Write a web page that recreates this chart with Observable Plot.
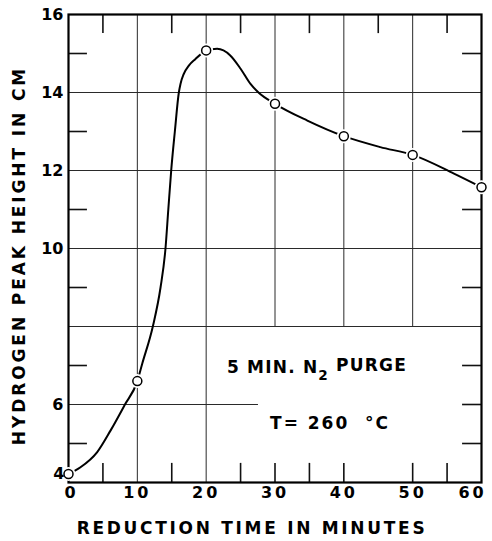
<!DOCTYPE html>
<html><head><meta charset="utf-8">
<script src="https://cdn.jsdelivr.net/npm/d3@7"></script>
<script src="https://cdn.jsdelivr.net/npm/@observablehq/plot@0.6"></script>
<style>html,body{margin:0;padding:0;background:#fff} svg{display:block}</style>
</head><body><div id="chart"></div>
<script>
// measured points
const timeMin = [0, 10, 20, 30, 40, 50, 60];
const peakCm  = [4.22, 6.6, 15.08, 13.71, 12.88, 12.4, 11.57];
// hand-drawn smooth curve
const curveTime = [0, 0.53, 1.74, 4.17, 6.1, 8.14, 10, 10.7, 12.25, 13.37, 14.09, 14.5, 14.92, 15.45, 16.03, 16.27, 16.75, 17.48, 18.45, 19.42, 20, 21.6, 23.5, 25.0, 26.44, 27.6, 30, 34.7, 40, 45.3, 50, 56, 60];
const curveCm   = [4.2, 4.26, 4.39, 4.78, 5.33, 5.98, 6.6, 7.04, 8.0, 9.0, 10, 11, 12, 13, 14.0, 14.22, 14.48, 14.69, 14.86, 15.01, 15.08, 15.12, 14.95, 14.61, 14.22, 14.0, 13.71, 13.28, 12.88, 12.6, 12.4, 11.92, 11.57];
// axes
const xTickLabels = [10, 20, 30, 40, 50];
const xFirstLabel = [0];
const xLastLabel = [60];
const yTickLabels = [6, 10, 12, 14, 16];
const yLowLabel = [4];
// grid
const vGridFull = [10, 20];
const vGridUpper = [30, 40, 50];
const hGridFull = [8, 10, 12, 14];
const hGridPartial = [6];
// minor ticks
const topTicks = [5, 15, 25, 35, 45, 55];
const bottomTicks = [5, 15, 25, 30, 35, 40, 50, 55];
const leftTicks = [5, 7, 9, 11, 13, 15];
const rightTicks = [5, 6, 7, 9, 11, 13, 15];
// annotations
const noteText = ["5 MIN. N2 PURGE", "T= 260 \u00a0°C"];
const noteTime = [36.1, 38.0];
const noteCm = [6.95, 5.51];
const xTitle = "REDUCTION TIME IN MINUTES";
const yTitle = "HYDROGEN PEAK HEIGHT IN CM";

const X0 = 0, X1 = 60, Y0 = 4, Y1 = 16;
const tLenX = 2.75, tLenY = 0.49, partialEnd = 27.6, upperStart = 8;
const font = "'DejaVu Sans', Verdana, sans-serif";

const points = timeMin.map((t, i) => ({t, h: peakCm[i]}));
const curve = curveTime.map((t, i) => ({t, h: curveCm[i]}));
const notes = noteText.map((s, i) => ({s, t: noteTime[i], h: noteCm[i]}));

const gridStyle = {stroke: "#2a2a2a", strokeWidth: 1};
const tickStyle = {stroke: "#111", strokeWidth: 1.6};
const bold = {fontWeight: "bold", fill: "#000", lineAnchor: "middle"};
const xLab = {frameAnchor: "bottom", dy: 10, text: d => String(d), fontSize: 16, textAnchor: "middle", ariaDescription: "xticklabels", ...bold};

const chart = Plot.plot({
  width: 492, height: 541,
  marginLeft: 68, marginRight: 11, marginTop: 14, marginBottom: 59,
  x: {domain: [X0, X1], axis: null},
  y: {domain: [Y0, Y1], axis: null},
  style: {fontFamily: font, background: "#fff", color: "#000"},
  marks: [
    Plot.ruleX(vGridFull, {x: d => d, y1: Y0, y2: Y1, ...gridStyle}),
    Plot.ruleX(vGridUpper, {x: d => d, y1: upperStart, y2: Y1, ...gridStyle}),
    Plot.ruleY(hGridFull, {y: d => d, x1: X0, x2: X1, ...gridStyle}),
    Plot.ruleY(hGridPartial, {y: d => d, x1: X0, x2: partialEnd, ...gridStyle}),
    Plot.ruleX(topTicks, {x: d => d, y1: Y1, y2: Y1 - tLenY, ...tickStyle}),
    Plot.ruleX(bottomTicks, {x: d => d, y1: Y0, y2: Y0 + tLenY, ...tickStyle}),
    Plot.ruleY(leftTicks, {y: d => d, x1: X0, x2: X0 + tLenX, ...tickStyle}),
    Plot.ruleY(rightTicks, {y: d => d, x1: X1, x2: X1 - tLenX, ...tickStyle}),
    Plot.frame({stroke: "#000", strokeWidth: 2.2}),
    Plot.line(curve, {x: "t", y: "h", curve: "monotone-x", stroke: "#000", strokeWidth: 2}),
    Plot.dot(points, {x: "t", y: "h", r: 7, fill: "#fff", stroke: "none"}),
    Plot.dot(points, {x: "t", y: "h", r: 4.5, fill: "#fff", stroke: "#000", strokeWidth: 1.5}),
    Plot.text(xTickLabels, {x: d => d, ...xLab}),
    Plot.text(xFirstLabel, {x: d => d, ...xLab, dx: 3}),
    Plot.text(xLastLabel, {x: d => d, ...xLab, dx: -9}),
    Plot.text(yTickLabels, {y: d => d, frameAnchor: "left", dx: -5, text: d => String(d), fontSize: 16, textAnchor: "end", ...bold}),
    Plot.text(yLowLabel, {y: d => d, frameAnchor: "left", dx: -4, dy: -9, text: d => String(d), fontSize: 16, textAnchor: "end", ...bold}),
    Plot.text(notes, {x: "t", y: "h", text: "s", fontSize: 17, textAnchor: "middle", ariaDescription: "notes", ...bold}),
    Plot.text([xTitle], {frameAnchor: "bottom", dx: -23, dy: 46, fontSize: 17, textAnchor: "middle", ariaDescription: "xtitle", ...bold}),
    Plot.text([yTitle], {frameAnchor: "left", dx: -49, dy: 7, rotate: -90, fontSize: 17, textAnchor: "middle", ariaDescription: "ytitle", ...bold})
  ]
});

document.getElementById("chart").appendChild(chart);

// typographic tweaks: letter spacing and subscript
const svg = d3.select(chart);
const group = (name) => svg.selectAll("g").filter(function () { return this.getAttribute("aria-description") === name; }).selectAll("text");
group("xticklabels").style("letter-spacing", "3px");
group("xtitle").style("letter-spacing", "2.7px");
group("ytitle").style("letter-spacing", "2.9px");
group("notes").each(function () {
  const t = this.textContent;
  const sel = d3.select(this);
  if (t === noteText[0]) {
    sel.text(null).style("letter-spacing", "1.2px");
    sel.append("tspan").text("5 MIN. N");
    sel.append("tspan").attr("dy", "0.5em").attr("font-size", "0.8em").text("2");
    sel.append("tspan").attr("dy", "-0.5em").text(" PURGE");
  } else {
    sel.style("letter-spacing", "2px");
  }
});
</script>
</body></html>
